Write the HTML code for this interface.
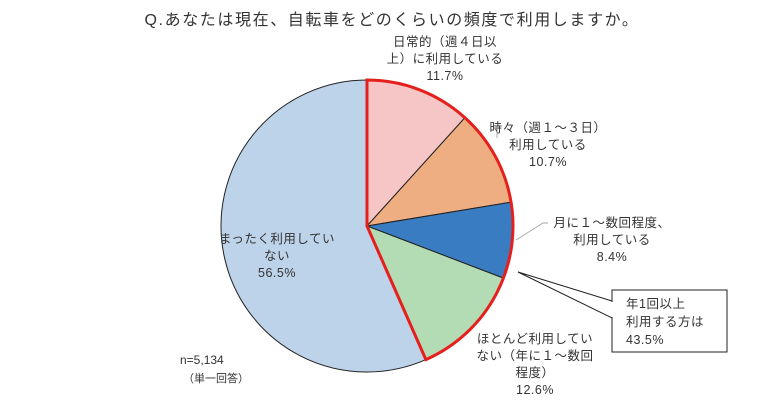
<!DOCTYPE html>
<html><head><meta charset="utf-8"><style>
html,body{margin:0;padding:0;background:#fff;}
svg text{font-family:"Liberation Sans","Noto Sans CJK JP",sans-serif;fill:#333;}
</style></head><body>
<svg width="780" height="409" viewBox="0 0 780 409" xmlns="http://www.w3.org/2000/svg">
<text x="392" y="25" font-size="16" letter-spacing="1.6" text-anchor="middle" fill="#222">Q.あなたは現在、自転車をどのくらいの頻度で利用しますか。</text>
<g stroke="#222" stroke-width="1">
<path d="M367,226 L425.9,359.6 A146,146 0 1 1 367,80 Z" fill="#bdd3ea"/>
<path d="M367,226 L367,80 A146,146 0 0 1 464.9,117.7 Z" fill="#f6c6c6"/>
<path d="M367,226 L464.9,117.7 A146,146 0 0 1 511,202.2 Z" fill="#eeae82"/>
<path d="M367,226 L511,202.2 A146,146 0 0 1 503.4,278.1 Z" fill="#3a7cc2"/>
<path d="M367,226 L503.4,278.1 A146,146 0 0 1 425.9,359.6 Z" fill="#b4dcb4"/>
</g>
<path d="M367,226 L367,80 A146,146 0 0 1 425.9,359.6 Z" fill="none" stroke="#e5201c" stroke-width="3" stroke-linejoin="miter"/>
<polyline points="500,126 497,126 497,138" fill="none" stroke="#aaa" stroke-width="1"/>
<polyline points="516,240 543,223 548,223" fill="none" stroke="#aaa" stroke-width="1"/>
<polygon points="518,272 612,301 612,318" fill="#fff" stroke="#222" stroke-width="1"/>
<rect x="612" y="290" width="115" height="62" fill="#fff" stroke="#222" stroke-width="1"/>
<line x1="612" y1="302" x2="612" y2="317" stroke="#fff" stroke-width="2"/>
<g font-size="12.5" letter-spacing="0.5">
<text x="445" y="46" text-anchor="middle">日常的（週４日以</text>
<text x="445" y="63" text-anchor="middle">上）に利用している</text>
<text x="445" y="80" text-anchor="middle">11.7%</text>
<text x="548" y="132" text-anchor="middle">時々（週１～３日）</text>
<text x="548" y="149" text-anchor="middle">利用している</text>
<text x="548" y="166" text-anchor="middle">10.7%</text>
<text x="612" y="227" text-anchor="middle">月に１～数回程度、</text>
<text x="612" y="244" text-anchor="middle">利用している</text>
<text x="612" y="261" text-anchor="middle">8.4%</text>
<text x="626" y="308">年1回以上</text>
<text x="626" y="326">利用する方は</text>
<text x="626" y="344">43.5%</text>
<text x="535" y="343" text-anchor="middle">ほとんど利用してい</text>
<text x="535" y="360" text-anchor="middle">ない（年に１～数回</text>
<text x="535" y="377" text-anchor="middle">程度）</text>
<text x="535" y="394" text-anchor="middle">12.6%</text>
<text x="277" y="243" text-anchor="middle">まったく利用してい</text>
<text x="277" y="260" text-anchor="middle">ない</text>
<text x="277" y="277" text-anchor="middle">56.5%</text>
</g>
<text x="180" y="364" font-size="12">n=5,134</text>
<text x="183" y="382" font-size="11">（単一回答）</text>
</svg>
</body></html>
